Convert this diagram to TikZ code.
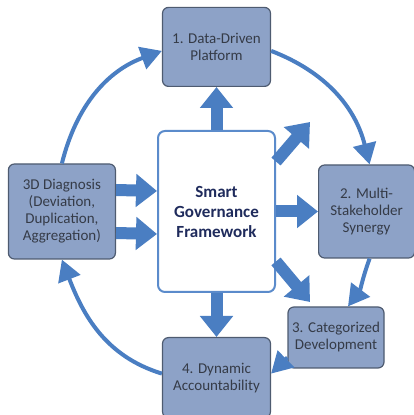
\documentclass[tikz,border=0pt]{standalone}
\usepackage{fontspec}
\setmainfont{Carlito}
\usetikzlibrary{arrows.meta,positioning}
\definecolor{stagefill}{HTML}{8DA2C7}
\definecolor{stageline}{HTML}{4E5B70}
\definecolor{stagetext}{HTML}{353B47}
\definecolor{flowblue}{HTML}{4A7EC2}
\definecolor{hubline}{HTML}{5B8BCB}
\definecolor{hubtext}{HTML}{1F2B5C}

\begin{document}
\begin{tikzpicture}[x=1pt, y=1pt,
    stage/.style={draw=stageline, line width=1.2pt, fill=stagefill, rounded corners=6pt, align=center, text=stagetext, inner sep=0pt, font=\fontsize{15}{17}\selectfont},
    hub/.style={draw=hubline, line width=2pt, fill=white, rounded corners=7pt, minimum width=117pt, minimum height=161pt, align=center, text=hubtext, font=\bfseries\fontsize{17}{20}\selectfont},
    fat/.style={flowblue, line width=12pt, -{Triangle[width=32pt,length=21pt]}},
    ring/.style={flowblue, line width=4pt, -{Triangle[width=23pt,length=21pt]}}
  ]
  \useasboundingbox (0,0) rectangle (414,415);

  % Main components
  \node[hub] (hub) at (216.5,203.5) {Smart\\Governance\\Framework};
  \node[stage, minimum width=108pt, minimum height=79pt, above=43pt of hub] (platform) {1. Data-Driven\\Platform};
  \node[stage, minimum width=96pt, minimum height=93pt, right=42pt of hub] (synergy) {2. Multi-\\Stakeholder\\Synergy};
  \node[stage, minimum width=96pt, minimum height=61pt] (category) at (336,77.5) {3. Categorized\\Development};
  \node[stage, minimum width=108pt, minimum height=80pt, below=44pt of hub] (account) {4. Dynamic\\Accountability};
  \node[stage, minimum width=107pt, minimum height=95pt, left=41pt of hub] (diagnosis) {3D Diagnosis\\(Deviation,\\Duplication,\\Aggregation)};

  % Free ends of the diagonal arrows
  \coordinate (upper) at (310,293);
  \coordinate (lower) at (310,113);

  % Block arrows around the framework
  \draw[fat] (hub.north) -- (platform.south);
  \draw[fat] (hub.south) -- (account.north);
  \draw[fat] (hub.east) -- (synergy.west);
  \draw[fat] (hub.40) -- (upper);
  \draw[fat] (hub.-40) -- (lower);
  \draw[fat] ([yshift=21.5pt]diagnosis.east) -- ([yshift=20.5pt]hub.west);
  \draw[fat] ([yshift=-21.5pt]diagnosis.east) -- ([yshift=-22.5pt]hub.west);

  % Outer cycle
  \draw[ring] (diagnosis.north) to[out=76, in=200] ([yshift=-4pt]platform.west);
  \draw[ring] ([yshift=-4pt]platform.east) to[out=-21, in=104] ([xshift=3pt]synergy.north);
  \draw[ring] ([xshift=3pt]synergy.south) to[out=-110, in=53] ([xshift=12pt]category.north);
  \draw[ring] ([yshift=-20pt]category.west) -- ([yshift=4pt]account.east);
  \draw[ring] ([yshift=4pt]account.west) to[out=163, in=-69] (diagnosis.south);
\end{tikzpicture}
\end{document}
